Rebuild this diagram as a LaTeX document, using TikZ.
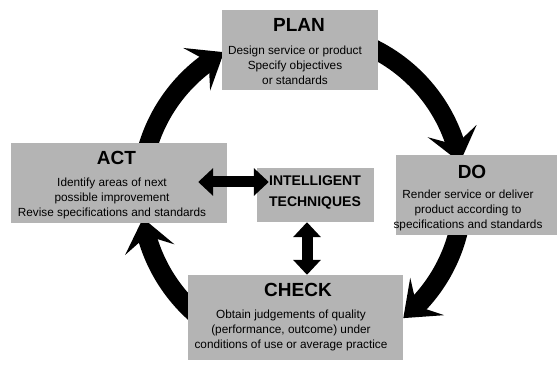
\documentclass[tikz,border=0pt]{standalone}
\usepackage{fontspec}
\setmainfont{Liberation Sans}
\usetikzlibrary{arrows.meta,bending}

\definecolor{boxgray}{RGB}{180,180,180}

\tikzset{
  cyclebox/.style={fill=boxgray, inner sep=0pt},
  boxtitle/.style={font=\fontsize{19}{19}\selectfont\bfseries, inner sep=0pt},
  boxbody/.style={font=\fontsize{11.8}{15}\selectfont, align=center, inner sep=0pt},
  ring/.style={line width=19pt, -{Stealth[length=32pt,width=50pt,inset=14pt]}},
  dblarrow/.style={line width=11pt, {Triangle[length=15pt,width=27pt]}-{Triangle[length=15pt,width=27pt]}},
}

\begin{document}
\begin{tikzpicture}[x=1pt,y=1pt]
  \useasboundingbox (0,0) rectangle (557,366);
  \coordinate (ctr) at (302,173);

  % the cycle, clockwise, one arc per stage
  \foreach \from/\to in {175/119, 90/11, 0/-51, 240/189} {%
    \draw[ring] (ctr) ++(\from:161) arc[start angle=\from, end angle=\to, radius=161];
  }

  % stage boxes
  \node[cyclebox, minimum width=156, minimum height=80] (plan) at (300,316) {};
  \node[cyclebox, minimum width=216, minimum height=80] (act) at (119,183) {};
  \node[cyclebox, minimum width=117, minimum height=54] (intel) at (315.5,171) {};
  \node[cyclebox, minimum width=161, minimum height=80] (do) at (476.5,171) {};
  \node[cyclebox, minimum width=215, minimum height=85] (check) at (295.5,48.5) {};

  \node[boxtitle] (plantitle) at (299,341) {PLAN};
  \node[boxbody] (planbody) at (295,301) {Design service or product\\Specify objectives\\or standards};

  \node[boxtitle] (acttitle) at (116.5,208) {ACT};
  \node[boxbody] (actbody) at (112,168) {Identify areas of next\\possible improvement\\Revise specifications and standards};

  \node[boxtitle] (dotitle) at (472,194) {DO};
  \node[boxbody] (dobody) at (468,156) {Render service or deliver\\product according to\\specifications and standards};

  \node[boxtitle] (checktitle) at (298,76) {CHECK};
  \node[boxbody] (checkbody) at (291,36) {Obtain judgements of quality\\(performance, outcome) under\\conditions of use or average practice};

  \node[font=\fontsize{14}{21}\selectfont\bfseries, align=center, inner sep=0pt] (inteltext) at (315,173.5) {INTELLIGENT\\TECHNIQUES};

  % links to the centre box
  \draw[dblarrow] ([xshift=-29pt,yshift=1pt]act.east) -- ([xshift=12pt,yshift=13pt]intel.west);
  \draw[dblarrow] ([xshift=-8.5pt]intel.south) -- ([xshift=11.5pt]check.north);
\end{tikzpicture}
\end{document}
